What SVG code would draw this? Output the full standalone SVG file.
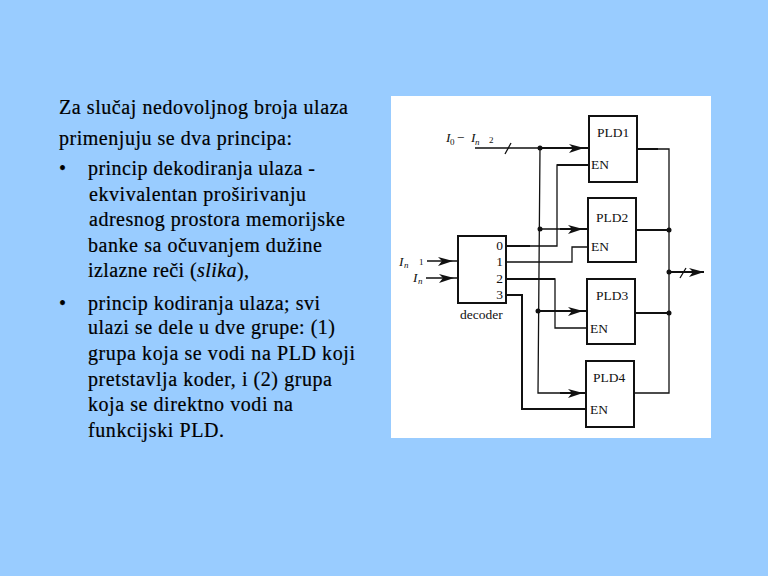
<svg xmlns="http://www.w3.org/2000/svg" xmlns:xlink="http://www.w3.org/1999/xlink" width="768" height="576" viewBox="0 0 768 576">
<style>
.t{font-family:"Liberation Serif","Times New Roman",serif;font-size:20px;fill:#000;stroke:#000;stroke-width:.2}
.d{font-family:"Liberation Serif","Times New Roman",serif;font-size:13.5px;fill:#111}
.i{font-style:italic}
.s{font-size:9px}
.box{fill:#fff;stroke:#111;stroke-width:2}
.w{fill:none;stroke:#111;stroke-width:1.3}
.h{fill:none;stroke:#111;stroke-width:2}
.dot{fill:#111}
</style>
<defs>
<path id="ah" d="M-15,-4 L0,0 L-15,5 L-11,0 Z" fill="#111"/>
</defs>
<rect width="768" height="576" fill="#99ccff"/>
<g id="text">
<text class="t" x="59" y="114" textLength="289">Za slučaj nedovoljnog broja ulaza</text>
<text class="t" x="59" y="145" textLength="233">primenjuju se dva principa:</text>
<text class="t" x="59" y="175">•</text>
<text class="t" x="88" y="175" textLength="227">princip dekodiranja ulaza -</text>
<text class="t" x="89" y="201" textLength="217">ekvivalentan proširivanju</text>
<text class="t" x="89" y="226" textLength="256">adresnog prostora memorijske</text>
<text class="t" x="88" y="252" textLength="234">banke sa očuvanjem dužine</text>
<text class="t" x="88" y="277" textLength="161">izlazne reči (<tspan class="i">slika</tspan>),</text>
<text class="t" x="59" y="310">•</text>
<text class="t" x="88" y="310" textLength="232">princip kodiranja ulaza; svi</text>
<text class="t" x="88" y="334" textLength="247">ulazi se dele u dve grupe: (1)</text>
<text class="t" x="88" y="360" textLength="267">grupa koja se vodi na PLD koji</text>
<text class="t" x="88" y="386" textLength="244">pretstavlja koder, i (2) grupa</text>
<text class="t" x="88" y="411" textLength="205">koja se direktno vodi na</text>
<text class="t" x="88" y="437" textLength="136">funkcijski PLD.</text>
</g>
<rect id="figure" x="391" y="96" width="320" height="342" fill="#fff"/>
<g id="connectors">
<path class="w" d="M475,148H540M540,148L538,393H586M540,229H588"/>
<path class="h" d="M540,148H589M538,311H587M560,229H588M560,393H586"/>
<path class="w" d="M589,165H557V246H506"/>
<path class="h" d="M589,165H557M506,246H530M506,279H555"/>
<path class="w" d="M588,247H572V262H506"/>
<path class="w" d="M586,328H555V279H506"/>
<path class="h" d="M586,409H522V295H506"/>
<path class="w" d="M637,149H669V393H634"/>
<path class="h" d="M637,149H658M636,230H669M635,313H669M669,272H704"/>
<path class="w" d="M427,261H458M426,278H458"/>
<path class="w" d="M505,154L511,143M680,278L686,268"/>
<use xlink:href="#ah" href="#ah" x="584" y="148"/>
<use xlink:href="#ah" href="#ah" x="583" y="229"/>
<use xlink:href="#ah" href="#ah" x="583" y="311"/>
<use xlink:href="#ah" href="#ah" x="583" y="393"/>
<use xlink:href="#ah" href="#ah" x="453" y="261"/>
<use xlink:href="#ah" href="#ah" x="454" y="278"/>
<use xlink:href="#ah" href="#ah" x="704" y="272"/>
<circle class="dot" cx="540" cy="148" r="2.5"/>
<circle class="dot" cx="540" cy="229" r="2.5"/>
<circle class="dot" cx="538" cy="311" r="2.5"/>
<circle class="dot" cx="669" cy="230" r="2.5"/>
<circle class="dot" cx="669" cy="272" r="2.5"/>
<circle class="dot" cx="669" cy="313" r="2.5"/>
</g>
<g id="pld1"><rect class="box" x="589" y="116" width="48" height="66"/><text class="d" x="597" y="137">PLD1</text><text class="d" x="591" y="169">EN</text></g>
<g id="pld2"><rect class="box" x="588" y="198" width="48" height="64"/><text class="d" x="596" y="222">PLD2</text><text class="d" x="591" y="251">EN</text></g>
<g id="pld3"><rect class="box" x="587" y="279" width="48" height="65"/><text class="d" x="596" y="300">PLD3</text><text class="d" x="590" y="333">EN</text></g>
<g id="pld4"><rect class="box" x="586" y="361" width="48" height="66"/><text class="d" x="593" y="382">PLD4</text><text class="d" x="590" y="414">EN</text></g>
<g id="decoder"><rect class="box" x="458" y="236" width="48" height="67"/>
<text class="d" x="503" y="250" text-anchor="end">0</text>
<text class="d" x="503" y="266" text-anchor="end">1</text>
<text class="d" x="503" y="283" text-anchor="end">2</text>
<text class="d" x="503" y="299" text-anchor="end">3</text>
<text class="d" x="460" y="319">decoder</text></g>
<g id="labels">
<text class="d i" x="446" y="142">I</text><text class="d s" x="450" y="145">0</text>
<text class="d" x="457" y="142">−</text>
<text class="d i" x="471" y="142">I</text><text class="d s i" x="475" y="145">n</text><text class="d s" x="489" y="143">2</text>
<text class="d i" x="399" y="266">I</text><text class="d s i" x="404" y="268">n</text><text class="d s" x="419" y="265">1</text>
<text class="d i" x="413" y="282">I</text><text class="d s i" x="418" y="284">n</text>
</g>
</svg>
